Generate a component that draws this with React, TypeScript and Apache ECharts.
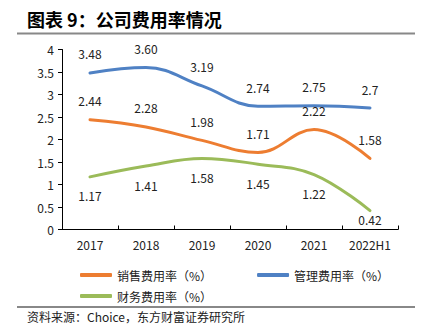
import React, { useEffect, useRef } from "react";
import * as echarts from "echarts";

const categories = ["2017", "2018", "2019", "2020", "2021", "2022H1"];
const salesRate = [2.44, 2.28, 1.98, 1.71, 2.22, 1.58];
const mgmtRate = [3.48, 3.6, 3.19, 2.74, 2.75, 2.7];
const finRate = [1.17, 1.41, 1.58, 1.45, 1.22, 0.42];
const seriesNames = ["销售费用率（%）", "管理费用率（%）", "财务费用率（%）"];
const colors = ["#ED7D31", "#4F81C4", "#9BBB59"];
const labelFmt = (v: number) => (v === 2.7 ? "2.7" : v.toFixed(2));

const FONT = "'Noto Sans CJK SC', 'Noto Sans', sans-serif";

export default function App() {
  const ref = useRef<HTMLDivElement>(null);
  useEffect(() => {
    if (!ref.current) return;
    const chart = echarts.init(ref.current, undefined, { renderer: "svg" });
    const mk = (name: string, data: number[], color: string, pos: string, tightLast = false) => ({
      name,
      type: "line",
      data: data.map((v, i) =>
        tightLast && i === data.length - 1 ? { value: v, label: { distance: 3 } } : v
      ),
      smooth: 0.4,
      showSymbol: true,
      symbol: "circle",
      symbolSize: 0,
      lineStyle: { color, width: 3, cap: "round" },
      itemStyle: { color },
      label: {
        show: true,
        position: pos,
        distance: 13,
        fontSize: 12,
        color: "#222",
        fontFamily: FONT,
        formatter: (p: any) => labelFmt(p.value),
      },
    });
    const legendCommon = {
      icon: "roundRect",
      itemWidth: 32,
      itemHeight: 4,
      itemGap: 45,
      textStyle: { fontSize: 12, color: "#222", fontFamily: FONT },
    };
    chart.setOption({
      animation: false,
      backgroundColor: "#fff",
      textStyle: { fontFamily: FONT },
      grid: { left: 62, top: 49.5, right: 26, bottom: 100.5 },
      legend: [
        { ...legendCommon, data: [seriesNames[0], seriesNames[1]], left: 75, top: 264 },
        { ...legendCommon, data: [seriesNames[2]], left: 75, top: 285 },
      ],
      xAxis: {
        type: "category",
        data: categories,
        boundaryGap: true,
        axisLine: { lineStyle: { color: "#000", width: 1 } },
        axisTick: { show: true, inside: true, length: 4, lineStyle: { color: "#000" } },
        axisLabel: { fontSize: 12, color: "#222", margin: 9, fontFamily: FONT },
      },
      yAxis: {
        type: "value",
        min: 0,
        max: 4,
        interval: 0.5,
        splitLine: { show: false },
        axisLine: { show: true, lineStyle: { color: "#000", width: 1 } },
        axisTick: { show: true, length: 4, lineStyle: { color: "#000" } },
        axisLabel: { fontSize: 12, color: "#222", margin: 8, fontFamily: FONT },
      },
      graphic: [
        {
          type: "text",
          left: 27,
          top: 10,
          style: {
            text: "图表 9：公司费用率情况",
            fontSize: 18,
            fontWeight: "bold",
            fill: "#000",
            fontFamily: FONT,
          },
        },
        {
          type: "line",
          shape: { x1: 17, y1: 33.5, x2: 415, y2: 33.5 },
          style: { stroke: "#888", lineWidth: 2 },
        },
        {
          type: "line",
          shape: { x1: 17, y1: 307, x2: 415, y2: 307 },
          style: { stroke: "#888", lineWidth: 2 },
        },
        {
          type: "text",
          left: 27,
          top: 310,
          style: {
            text: "资料来源：Choice，东方财富证券研究所",
            fontSize: 12,
            fill: "#222",
            fontFamily: FONT,
          },
        },
      ],
      series: [
        mk(seriesNames[0], salesRate, colors[0], "top"),
        mk(seriesNames[1], mgmtRate, colors[1], "top"),
        mk(seriesNames[2], finRate, colors[2], "bottom", true),
      ],
    });
    return () => chart.dispose();
  }, []);
  return <div ref={ref} style={{ width: 424, height: 330, position: "absolute", left: 0, top: 0 }} />;
}
